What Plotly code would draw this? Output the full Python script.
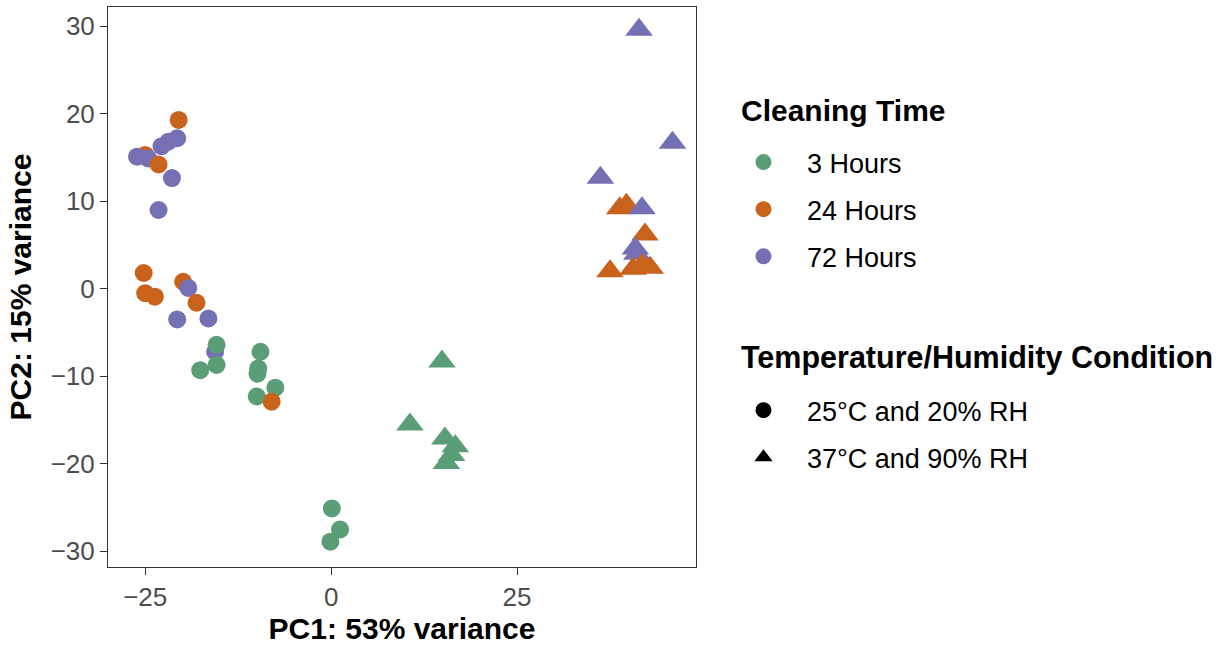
import plotly.graph_objects as go

# ---- data ----
time_levels = ["3 Hours", "24 Hours", "72 Hours"]
time_colors = ["#5A9E78", "#C9621A", "#7570B3"]
cond_levels = ["25°C and 20% RH", "37°C and 90% RH"]
cond_symbols = ["circle", "triangle-up"]

# 25°C and 20% RH samples (drawing order matters for overlaps)
c_pc1 = [-15.6, -20.7, -21.9, -22.8, -25.0, -24.6, -26.1, -23.2, -20.5, -21.4, -23.2,
         -25.2, -25.0, -23.7, -19.9, -19.2, -18.1, -20.7, -16.5,
         -15.4, -15.4, -17.6, -9.5, -9.8, -9.9, -10.0, -7.5, -8.0,
         0.1, 1.2, -0.1]
c_pc2 = [-7.2, 17.2, 16.8, 16.3, 15.3, 14.9, 15.1, 14.2, 19.3, 12.65, 9.0,
         1.8, -0.5, -0.9, 0.8, 0.1, -1.6, -3.5, -3.4,
         -6.4, -8.7, -9.3, -7.2, -9.1, -9.7, -12.3, -11.3, -12.9,
         -25.1, -27.5, -28.9]
c_time = ["72 Hours", "72 Hours", "72 Hours", "72 Hours", "24 Hours", "72 Hours", "72 Hours", "24 Hours", "24 Hours", "72 Hours", "72 Hours",
          "24 Hours", "24 Hours", "24 Hours", "24 Hours", "72 Hours", "24 Hours", "72 Hours", "72 Hours",
          "3 Hours", "3 Hours", "3 Hours", "3 Hours", "3 Hours", "3 Hours", "3 Hours", "3 Hours", "24 Hours",
          "3 Hours", "3 Hours", "3 Hours"]

# 37°C and 90% RH samples
t_pc1 = [14.9, 10.6, 15.3, 16.7, 16.2, 15.5,
         41.4, 45.9, 36.2,
         38.8, 39.7, 41.8, 42.2, 40.9, 41.1,
         37.5, 40.6, 41.8, 42.9]
t_pc2 = [-8.3, -15.5, -17.1, -18.0, -19.0, -19.9,
         29.6, 16.7, 12.7,
         9.2, 9.6, 9.2, 6.2, 4.6, 4.0,
         2.0, 2.3, 2.7, 2.4]
t_time = ["3 Hours"] * 6 + ["72 Hours"] * 3 + ["24 Hours", "24 Hours", "72 Hours", "24 Hours", "72 Hours", "72 Hours",
          "24 Hours", "24 Hours", "24 Hours", "24 Hours"]

x_ticks = [-25, 0, 25]
y_ticks = [-30, -20, -10, 0, 10, 20, 30]

cmap = dict(zip(time_levels, time_colors))
FONT = "Liberation Sans, Arial, Helvetica, sans-serif"

fig = go.Figure()
for xs, ys, ts, sym, size in [(c_pc1, c_pc2, c_time, cond_symbols[0], 18),
                               (t_pc1, t_pc2, t_time, cond_symbols[1], 24)]:
    fig.add_trace(go.Scatter(
        x=xs, y=ys, mode="markers", showlegend=False,
        marker=dict(symbol=sym, size=size, color=[cmap[t] for t in ts],
                    line=dict(width=0))))

# legend entries
for i, (lev, col) in enumerate(zip(time_levels, time_colors)):
    fig.add_trace(go.Scatter(x=[None], y=[None], mode="markers", name=lev,
                             legend="legend", legendgroup="t" + str(i),
                             marker=dict(symbol="circle", size=16, color=col)))
for i, (lev, sym) in enumerate(zip(cond_levels, cond_symbols)):
    fig.add_trace(go.Scatter(x=[None], y=[None], mode="markers", name=lev,
                             legend="legend2", legendgroup="c" + str(i),
                             marker=dict(symbol=sym, size=16, color="black")))

axis_common = dict(showgrid=False, zeroline=False, showline=True, mirror=True,
                   linecolor="#333333", linewidth=1, ticks="outside", ticklen=7,
                   tickwidth=1, tickcolor="#333333",
                   tickfont=dict(family=FONT, size=26, color="#4D4D4D"))

fig.update_layout(
    width=1228, height=647,
    margin=dict(l=108, r=532, t=7, b=80),
    paper_bgcolor="white", plot_bgcolor="white",
    font=dict(family=FONT),
    xaxis=dict(range=[-30, 49.06], tickvals=x_ticks,
               title=dict(text="<b>PC1: 53% variance</b>", standoff=4,
                          font=dict(family=FONT, size=30, color="black")),
               **axis_common),
    yaxis=dict(range=[-31.8, 32.2], tickvals=y_ticks,
               title=dict(text="<b>PC2: 15% variance</b>", standoff=10,
                          font=dict(family=FONT, size=30, color="black")),
               **axis_common),
    legend=dict(x=1.0408, y=0.766, xanchor="left", yanchor="top",
                font=dict(family=FONT, size=27, color="black"),
                tracegroupgap=9, itemwidth=77, bgcolor="rgba(0,0,0,0)"),
    legend2=dict(x=1.0408, y=0.323, xanchor="left", yanchor="top",
                 font=dict(family=FONT, size=27, color="black"),
                 tracegroupgap=9, itemwidth=77, bgcolor="rgba(0,0,0,0)"),
    annotations=[
        dict(text="<b>Cleaning Time</b>", xref="paper", yref="paper",
             x=1.0731, y=0.816, xanchor="left", yanchor="middle", showarrow=False,
             font=dict(family=FONT, size=30, color="black")),
        dict(text="<b>Temperature/Humidity Condition</b>", xref="paper", yref="paper",
             x=1.0731, y=0.375, xanchor="left", yanchor="middle", showarrow=False,
             font=dict(family=FONT, size=30.5, color="black")),
    ],
)

fig.write_html("out.html")
